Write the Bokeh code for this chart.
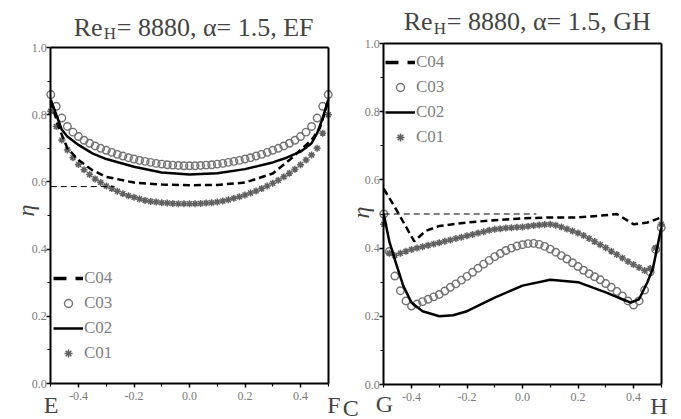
import numpy as np
from bokeh.plotting import figure
from bokeh.models import Label, Legend, LegendItem, FixedTicker, Range1d, LinearAxis
from bokeh.layouts import row
from bokeh.embed import file_html
from bokeh.resources import INLINE

# ---------------- data ----------------
x_mark = [-0.50, -0.48, -0.46, -0.44, -0.42, -0.40, -0.38, -0.36, -0.34, -0.32,
          -0.30, -0.28, -0.26, -0.24, -0.22, -0.20, -0.18, -0.16, -0.14, -0.12,
          -0.10, -0.08, -0.06, -0.04, -0.02, 0.00, 0.02, 0.04, 0.06, 0.08,
          0.10, 0.12, 0.14, 0.16, 0.18, 0.20, 0.22, 0.24, 0.26, 0.28,
          0.30, 0.32, 0.34, 0.36, 0.38, 0.40, 0.42, 0.44, 0.46, 0.48, 0.50]

# Panel EF
ef_c03 = [0.860, 0.825, 0.790, 0.765, 0.748, 0.735, 0.724, 0.715, 0.707, 0.700,
          0.694, 0.688, 0.682, 0.677, 0.672, 0.668, 0.664, 0.661, 0.658, 0.655,
          0.653, 0.651, 0.650, 0.649, 0.648, 0.648, 0.648, 0.649, 0.650, 0.651,
          0.653, 0.655, 0.658, 0.661, 0.664, 0.668, 0.672, 0.677, 0.682, 0.688,
          0.694, 0.700, 0.707, 0.715, 0.724, 0.735, 0.748, 0.765, 0.790, 0.825, 0.860]
ef_c01 = [0.810, 0.765, 0.725, 0.695, 0.672, 0.652, 0.636, 0.622, 0.609, 0.598,
          0.588, 0.580, 0.572, 0.565, 0.559, 0.554, 0.549, 0.545, 0.542, 0.540,
          0.538, 0.537, 0.536, 0.535, 0.535, 0.535, 0.535, 0.536, 0.537, 0.538,
          0.540, 0.543, 0.547, 0.551, 0.556, 0.561, 0.567, 0.573, 0.580, 0.588,
          0.596, 0.605, 0.615, 0.626, 0.638, 0.651, 0.665, 0.680, 0.700, 0.745, 0.800]
ef_c02_x = [-0.5, -0.48, -0.46, -0.44, -0.4, -0.35, -0.3, -0.2, -0.1, 0.0,
            0.1, 0.2, 0.3, 0.35, 0.4, 0.44, 0.46, 0.48, 0.5]
ef_c02_y = [0.845, 0.80, 0.755, 0.735, 0.71, 0.685, 0.668, 0.645, 0.628, 0.622,
            0.626, 0.638, 0.658, 0.672, 0.69, 0.715, 0.745, 0.79, 0.845]
ef_c04_x = [-0.5, -0.47, -0.44, -0.4, -0.35, -0.3, -0.2, -0.1, 0.0, 0.1,
            0.2, 0.3, 0.36, 0.4, 0.44, 0.47, 0.5]
ef_c04_y = [0.84, 0.76, 0.70, 0.665, 0.635, 0.615, 0.598, 0.592, 0.59, 0.591,
            0.598, 0.625, 0.665, 0.695, 0.725, 0.76, 0.84]
ef_ref_x = [-0.5, -0.27]
ef_ref_y = [0.586, 0.586]

# Panel GH
gh_c03 = [0.500, 0.390, 0.318, 0.275, 0.245, 0.230, 0.236, 0.243, 0.250, 0.257,
          0.264, 0.274, 0.285, 0.295, 0.306, 0.317, 0.329, 0.341, 0.353, 0.364,
          0.375, 0.384, 0.393, 0.400, 0.406, 0.410, 0.413, 0.414, 0.411, 0.405,
          0.397, 0.388, 0.378, 0.368, 0.357, 0.346, 0.335, 0.325, 0.316, 0.307,
          0.296, 0.285, 0.273, 0.260, 0.245, 0.233, 0.245, 0.277, 0.330, 0.396, 0.460]
gh_c01 = [0.470, 0.385, 0.378, 0.385, 0.391, 0.396, 0.400, 0.404, 0.408, 0.412,
          0.416, 0.420, 0.424, 0.428, 0.432, 0.436, 0.440, 0.444, 0.448, 0.452,
          0.455, 0.457, 0.459, 0.460, 0.461, 0.462, 0.464, 0.466, 0.468, 0.469,
          0.470, 0.467, 0.462, 0.456, 0.450, 0.444, 0.437, 0.428, 0.419, 0.410,
          0.401, 0.391, 0.381, 0.371, 0.361, 0.352, 0.343, 0.334, 0.340, 0.400, 0.470]
gh_c02_x = [-0.5, -0.48, -0.46, -0.43, -0.4, -0.36, -0.3, -0.25, -0.2, -0.1,
            0.0, 0.1, 0.2, 0.3, 0.36, 0.39, 0.42, 0.45, 0.47, 0.5]
gh_c02_y = [0.50, 0.42, 0.366, 0.29, 0.24, 0.215, 0.20, 0.203, 0.215, 0.255,
            0.29, 0.307, 0.30, 0.27, 0.25, 0.24, 0.25, 0.30, 0.34, 0.46]
gh_c04_x = [-0.5, -0.46, -0.39, -0.35, -0.3, -0.2, -0.1, 0.0, 0.1, 0.2,
            0.28, 0.34, 0.4, 0.45, 0.5]
gh_c04_y = [0.574, 0.52, 0.42, 0.45, 0.465, 0.475, 0.482, 0.487, 0.49, 0.49,
            0.495, 0.50, 0.47, 0.475, 0.49]
gh_ref_x = [-0.5, 0.05]
gh_ref_y = [0.5, 0.5]

x_ticks = [-0.4, -0.2, 0.0, 0.2, 0.4]
x_tick_labels = ["-0.4", "-0.2", "0.0", "0.2", "0.4"]
x_minor = [-0.5, -0.3, -0.1, 0.1, 0.3, 0.5]
y_ticks = [0.0, 0.2, 0.4, 0.6, 0.8, 1.0]
y_tick_labels = ["0.0", "0.2", "0.4", "0.6", "0.8", "1.0"]
y_minor = [0.1, 0.3, 0.5, 0.7, 0.9]
series_names = ["C04", "C03", "C02", "C01"]

SERIF = "Liberation Serif"
GRAY_TXT = "#7a7a7a"
X_LO, X_HI, Y_LO, Y_HI = -0.5, 0.5, 0.0, 1.0
PPU_X = 277.5


def make_panel(width, height, box_left, box_top, ppu_y, c03, c01, c02x, c02y,
               c04x, c04y, refx, refy, legend_loc):
    # the frame covers the whole canvas; the data box is drawn by fixed axes
    xs = X_LO - box_left / PPU_X
    ye = Y_HI + box_top / ppu_y
    p = figure(width=width, height=height,
               x_range=Range1d(xs, xs + width / PPU_X),
               y_range=Range1d(ye - height / ppu_y, ye),
               output_backend="svg", toolbar_location=None, min_border=0)
    p.grid.visible = False
    p.outline_line_color = None
    p.background_fill_color = "white"
    p.border_fill_color = "white"

    p.xaxis.ticker = FixedTicker(ticks=x_ticks, minor_ticks=x_minor)
    p.xaxis.major_label_overrides = dict(zip(x_ticks, x_tick_labels))
    p.xaxis.fixed_location = Y_LO
    p.xaxis.bounds = (X_LO, X_HI)
    p.yaxis.ticker = FixedTicker(ticks=y_ticks, minor_ticks=y_minor)
    p.yaxis.major_label_overrides = dict(zip(y_ticks, y_tick_labels))
    p.yaxis.fixed_location = X_LO
    p.yaxis.bounds = (Y_LO, Y_HI)
    for ax in (p.xaxis[0], p.yaxis[0]):
        ax.axis_line_width = 2
        ax.major_tick_line_width = 1.5
        ax.minor_tick_line_width = 1.2
        ax.major_tick_in = 0
        ax.major_tick_out = 4
        ax.minor_tick_in = 0
        ax.minor_tick_out = 3
        ax.major_label_text_font = SERIF
        ax.major_label_text_font_size = "12px"
        ax.major_label_text_color = GRAY_TXT
    p.yaxis.major_label_standoff = 0
    p.xaxis.major_label_standoff = 4

    top = LinearAxis(fixed_location=Y_HI, bounds=(X_LO, X_HI),
                     ticker=FixedTicker(ticks=[]), axis_line_width=2,
                     major_label_text_font_size="0px")
    right = LinearAxis(fixed_location=X_HI, bounds=(Y_LO, Y_HI),
                       ticker=FixedTicker(ticks=[]), axis_line_width=2,
                       major_label_text_font_size="0px")
    p.add_layout(top, "above")
    p.add_layout(right, "right")

    r03 = p.scatter(x_mark, c03, marker="circle", size=7.5, fill_color=None,
                    line_color="#727272", line_width=1.4)
    r01 = p.scatter(x_mark, c01, marker="asterisk", size=7,
                    line_color="#606060", line_width=1.5)
    p.line(refx, refy, line_color="black", line_width=1, line_dash="6 4")
    r02 = p.line(c02x, c02y, line_color="black", line_width=2.5)
    p.line(c04x, c04y, line_color="black", line_width=2.5, line_dash="7 4")
    leg04 = p.line([np.nan], [np.nan], line_color="black", line_width=3.5,
                   line_dash="13 9")

    legend = Legend(items=[LegendItem(label=series_names[0], renderers=[leg04]),
                           LegendItem(label=series_names[1], renderers=[r03]),
                           LegendItem(label=series_names[2], renderers=[r02]),
                           LegendItem(label=series_names[3], renderers=[r01])],
                    location=legend_loc, padding=0, margin=0, spacing=5,
                    glyph_width=30, glyph_height=20, label_height=20,
                    label_standoff=1, border_line_color=None,
                    background_fill_alpha=0, label_text_font=SERIF,
                    label_text_font_size="17px", label_text_color="#808080")
    p.add_layout(legend)
    return p


def title(p, xo, yo, yo_sub, tail):
    p.add_layout(Label(x=X_LO, y=Y_HI, x_offset=xo, y_offset=yo, text="Re",
                       text_font=SERIF, text_font_size="26px",
                       text_baseline="alphabetic"))
    p.add_layout(Label(x=X_LO, y=Y_HI, x_offset=xo + 30, y_offset=yo_sub, text="H",
                       text_font=SERIF, text_font_size="17px",
                       text_baseline="alphabetic"))
    p.add_layout(Label(x=X_LO, y=Y_HI, x_offset=xo + 43, y_offset=yo, text=tail,
                       text_font=SERIF, text_font_size="26px",
                       text_baseline="alphabetic"))


def letter(p, x, xo, yo, t):
    p.add_layout(Label(x=x, y=Y_LO, x_offset=xo, y_offset=yo, text=t,
                       text_font=SERIF, text_font_size="24px",
                       text_baseline="alphabetic"))


def eta(p, y, xo):
    p.add_layout(Label(x=X_LO, y=y, x_offset=xo, text="η", angle=np.pi / 2,
                       text_font=SERIF, text_font_size="24px",
                       text_font_style="italic", text_align="center",
                       text_baseline="middle"))


p1 = make_panel(340, 418, 50.25, 47, 336, ef_c03, ef_c01, ef_c02_x, ef_c02_y,
                ef_c04_x, ef_c04_y, ef_ref_x, ef_ref_y, (53, 55))
title(p1, 23, 20, 14, "= 8880, α= 1.5,  EF")
letter(p1, X_LO, -7, -21, "E")
letter(p1, X_HI, -1, -21, "F")
eta(p1, 0.515, -25)

p2 = make_panel(336, 418, 43.25, 43, 341, gh_c03, gh_c01, gh_c02_x, gh_c02_y,
                gh_c04_x, gh_c04_y, gh_ref_x, gh_ref_y, (45, 271))
title(p2, 20, 22, 15, "= 8880, α= 1.5,  GH")
letter(p2, X_LO, -41, -23, "C")
letter(p2, X_LO, -8, -19, "G")
letter(p2, X_HI, -11, -21, "H")
eta(p2, 0.504, -23)

layout = row(p1, p2)
open("out.html", "w").write(file_html(layout, INLINE))
